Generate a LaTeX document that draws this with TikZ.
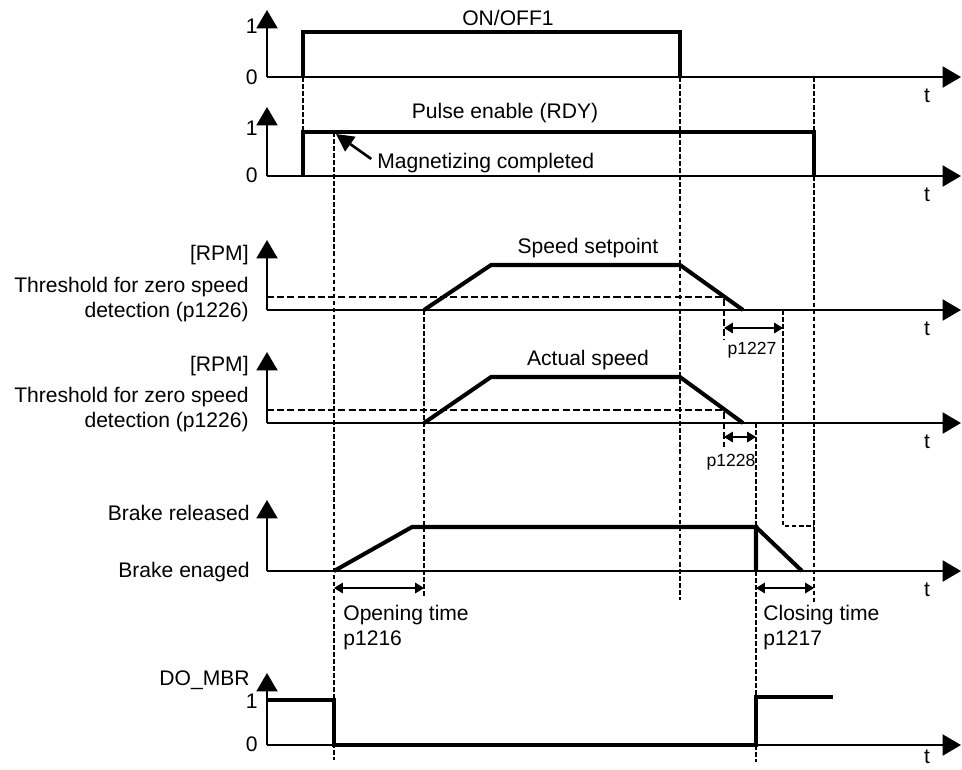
\documentclass[tikz,border=0pt]{standalone}
\usepackage{fontspec}
\setmainfont{Liberation Sans}
\usetikzlibrary{arrows.meta, positioning}

\tikzset{
  axis/.style={line width=1.15pt, -{Triangle[length=10.5pt,width=12pt]}},
  signal/.style={line width=2.3pt, line join=miter},
  guide/.style={line width=1.5pt, dash pattern=on 2.6pt off 1.4pt},
  thresh/.style={line width=1.3pt, dash pattern=on 4pt off 1.8pt},
  span/.style={line width=0.6pt, {Triangle[length=5pt,width=6pt]}-{Triangle[length=5pt,width=6pt]}},
  pointer/.style={line width=1.5pt, -{Triangle[length=10pt,width=10pt]}},
  lbl/.style={inner sep=0pt},
  plbl/.style={inner sep=0pt, font=\fontsize{10}{12}\selectfont},
}

\begin{document}
\begin{tikzpicture}[x=0.02cm,y=-0.02cm,font=\fontsize{12}{14.2}\selectfont]
\useasboundingbox (0,0) rectangle (962,769);

% dashed time marks
\draw[guide] (303,77) -- (303,132);
\draw[guide] (334,132) -- (334,760);
\draw[guide] (680,77) -- (680,600);
\draw[guide] (814,77) -- (814,132);
\draw[guide] (814,176) -- (814,603);
\draw[guide] (424,310) -- (424,598);
\draw[guide] (783,310) -- (783,526) -- (814,526);
\draw[guide] (756,423) -- (756,527);
\draw[guide] (756,571) -- (756,697);
\draw[guide] (756,745) -- (756,762);

% axes
\foreach \n/\yb/\yt/\yl in {onoff/77/10/96,pulse/176/107/195,nset/310/240/329,nact/423/352/442,brake/571/500/590,mbr/745/673/757} {
  \coordinate (O-\n) at (267,\yb);
  \coordinate (Y-\n) at (267,\yt);
  \coordinate (X-\n) at (961,\yb);
  \draw[axis] (O-\n) -- (Y-\n);
  \draw[axis] (O-\n) -- (X-\n);
  \node[lbl] (t-\n) at (927,\yl) {t};
}

% levels
\foreach \n/\y/\v in {a/26/1,b/77/0,c/128/1,d/175/0,e/701/1,f/744/0}
  \node[lbl,anchor=east] (lvl-\n) at (258,\y) {\v};

% zero speed thresholds
\draw[thresh] (267,297) -- (724,297) -- (724,340);
\draw[thresh] (267,410) -- (724,410) -- (724,447);

% signals
\draw[signal] (303,77) -- (303,32) -- (680,32) -- (680,77);
\draw[signal] (303,176) -- (303,132) -- (814,132) -- (814,176);
\draw[signal] (424,310) -- (491,265) -- (680,265) -- (743,310);
\draw[signal] (424,423) -- (491,377) -- (680,377) -- (743,423);
\draw[signal] (334,571) -- (412,527) -- (756,527) -- (756,571);
\draw[signal] (756,527) -- (802,571);
\draw[signal] (267,700) -- (334,700) -- (334,745) -- (756,745) -- (756,697) -- (833,697);

% labels
\node[lbl] (onoff) at (508,18) {ON/OFF1};
\node[lbl] (pulse) at (505,113) {Pulse enable (RDY)};
\node[lbl,anchor=west] (magn) at (377,163) {Magnetizing completed};
\coordinate (magpt) at (336,134);
\draw[pointer,shorten <=4pt] (magn.west) -- (magpt);

\node[lbl] (nset) at (588,248) {Speed setpoint};
\node[lbl] (nact) at (588,360) {Actual speed};
\node[lbl,anchor=east] (rpm-set) at (249,255) {[RPM]};
\node[lbl,anchor=east] (rpm-act) at (249,366) {[RPM]};
\node[lbl,anchor=east,align=right] (thr-set) at (249,300) {Threshold for zero speed\\detection (p1226)};
\node[lbl,anchor=east,align=right] (thr-act) at (249,410) {Threshold for zero speed\\detection (p1226)};
\node[lbl,anchor=east] (brk-rel) at (250,513) {Brake released};
\node[lbl,anchor=east] (brk-eng) at (250,572) {Brake enaged};
\node[lbl,anchor=east] (mbr) at (250,680) {DO\_MBR};

% time spans
\foreach \n/\xa/\xb/\y in {p1227/724/783/328,p1228/724/756/437,open/334/424/588,close/756/814/588} {
  \coordinate (\n-a) at (\xa,\y);
  \coordinate (\n-b) at (\xb,\y);
  \draw[span] (\n-a) -- (\n-b);
}
\node[plbl] (l1227) at (752,350) {p1227};
\node[plbl] (l1228) at (731,462) {p1228};
\node[lbl,anchor=west,align=left] (open) at (343,628) {Opening time\\p1216};
\node[lbl,anchor=west,align=left] (close) at (763,628) {Closing time\\p1217};
\end{tikzpicture}
\end{document}
